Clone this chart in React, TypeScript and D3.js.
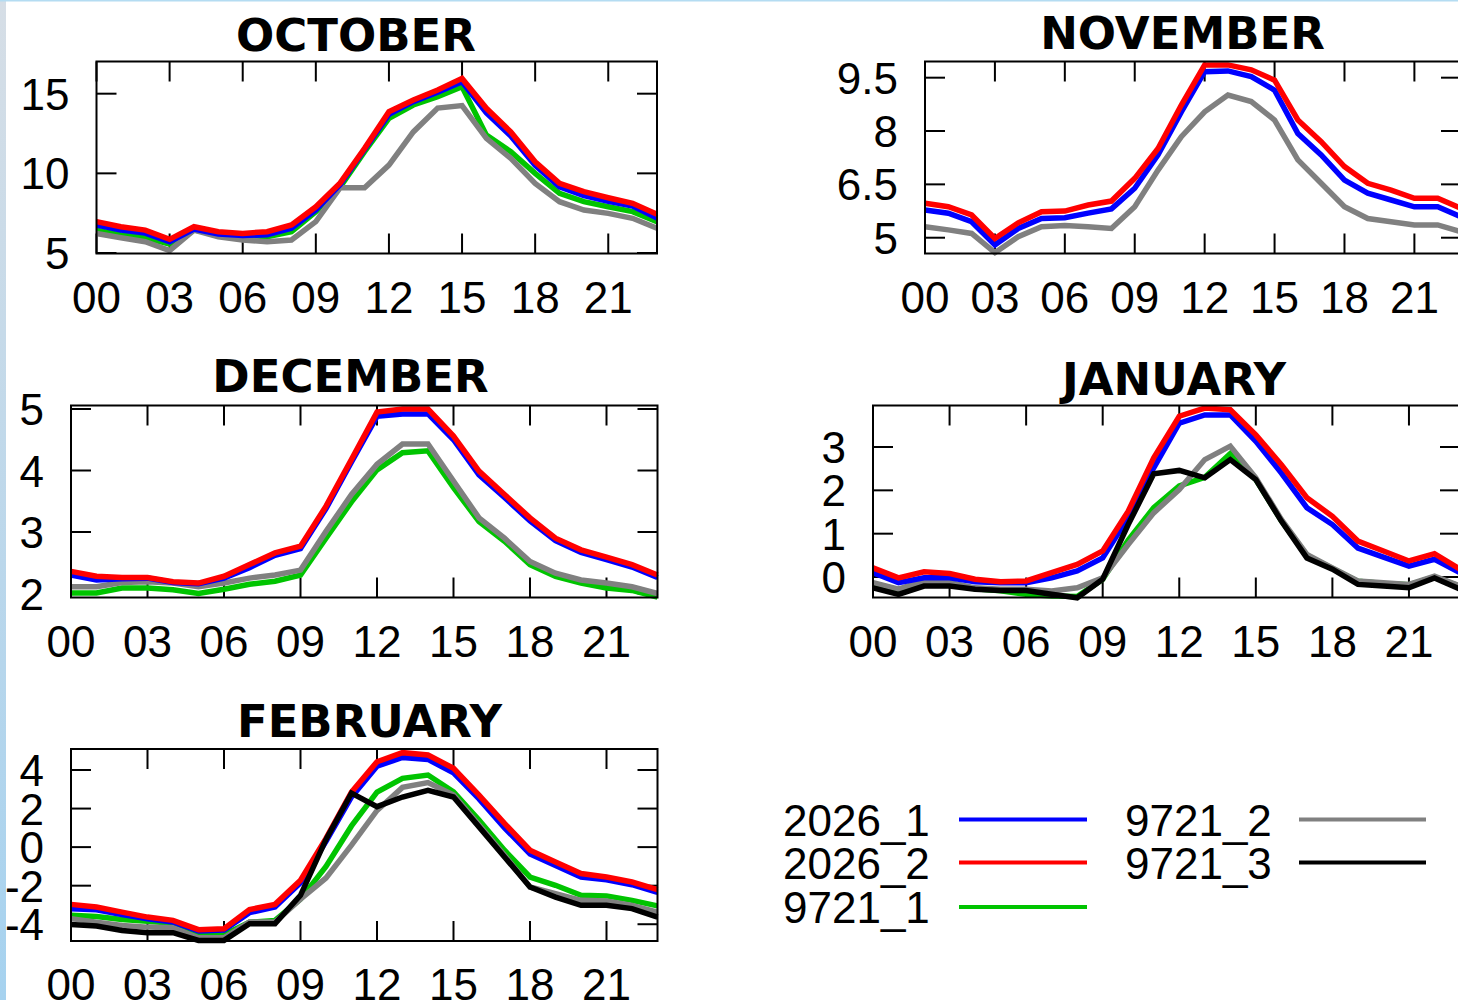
import React from "react";
import * as d3 from "d3";

// ---------- DATA ----------
const HOURS = [0, 1, 2, 3, 4, 5, 6, 7, 8, 9, 10, 11, 12, 13, 14, 15, 16, 17, 18, 19, 20, 21, 22, 23];
const X_TICKS = [0, 3, 6, 9, 12, 15, 18, 21];
const X_TICK_LABELS = ["00", "03", "06", "09", "12", "15", "18", "21"];

const SERIES_NAMES = ["2026_1", "2026_2", "9721_1", "9721_2", "9721_3"];
const SERIES_COLORS = ["#0000ff", "#ff0000", "#00c400", "#808080", "#000000"];

const MONTHS = ["OCTOBER", "NOVEMBER", "DECEMBER", "JANUARY", "FEBRUARY"];
const Y_DOMAINS = [
  [4.97, 17.02],
  [4.556, 9.955],
  [1.935, 5.057],
  [-0.473, 3.958],
  [-4.87, 5.09],
];
const Y_TICKS = [
  [5, 10, 15],
  [5, 6.5, 8, 9.5],
  [2, 3, 4, 5],
  [0, 1, 2, 3],
  [-4, -2, 0, 2, 4],
];

// October
const OCT_2026_1 = [6.75, 6.45, 6.25, 5.7, 6.5, 6.2, 6.1, 6.15, 6.55, 7.7, 9.3, 11.5, 13.7, 14.5, 15.1, 15.75, 13.8, 12.35, 10.5, 9.15, 8.6, 8.25, 7.95, 7.2];
const OCT_2026_2 = [6.97, 6.65, 6.44, 5.86, 6.65, 6.34, 6.23, 6.34, 6.76, 7.9, 9.4, 11.57, 13.87, 14.6, 15.23, 15.96, 14.08, 12.6, 10.73, 9.37, 8.85, 8.47, 8.12, 7.43];
const OCT_9721_1 = [6.44, 6.13, 5.96, 5.56, 6.44, 6.23, 6.13, 6.02, 6.34, 7.6, 9.15, 11.36, 13.45, 14.29, 14.81, 15.44, 12.4, 11.36, 10.0, 8.74, 8.22, 7.9, 7.6, 6.97];
const OCT_9721_2 = [6.23, 5.96, 5.71, 5.15, 6.44, 6.02, 5.82, 5.71, 5.82, 6.97, 9.1, 9.1, 10.52, 12.6, 14.1, 14.25, 12.2, 10.94, 9.37, 8.22, 7.7, 7.49, 7.18, 6.55];
// November
const NOV_2026_1 = [5.78, 5.69, 5.45, 4.8, 5.26, 5.54, 5.56, 5.69, 5.81, 6.39, 7.33, 8.54, 9.67, 9.69, 9.53, 9.15, 7.93, 7.33, 6.62, 6.25, 6.06, 5.87, 5.87, 5.59];
const NOV_2026_2 = [5.97, 5.87, 5.64, 4.98, 5.42, 5.73, 5.75, 5.92, 6.03, 6.67, 7.51, 8.73, 9.86, 9.86, 9.72, 9.43, 8.31, 7.7, 7.0, 6.53, 6.34, 6.11, 6.11, 5.83];
const NOV_9721_2 = [5.31, 5.22, 5.12, 4.58, 5.03, 5.31, 5.34, 5.31, 5.26, 5.87, 6.9, 7.84, 8.54, 9.01, 8.83, 8.31, 7.19, 6.53, 5.87, 5.54, 5.45, 5.36, 5.36, 5.17];
// December
const DEC_2026_1 = [2.3, 2.22, 2.24, 2.25, 2.18, 2.16, 2.25, 2.42, 2.62, 2.73, 3.38, 4.14, 4.88, 4.92, 4.92, 4.5, 3.93, 3.56, 3.18, 2.86, 2.67, 2.55, 2.43, 2.26];
const DEC_2026_2 = [2.36, 2.28, 2.26, 2.26, 2.19, 2.17, 2.28, 2.47, 2.66, 2.77, 3.42, 4.18, 4.95, 5.0, 5.0, 4.56, 3.99, 3.61, 3.23, 2.9, 2.71, 2.59, 2.47, 2.3];
const DEC_9721_1 = [2.01, 2.01, 2.09, 2.09, 2.06, 2.0, 2.07, 2.15, 2.2, 2.3, 2.9, 3.49, 4.01, 4.29, 4.32, 3.72, 3.17, 2.85, 2.47, 2.28, 2.17, 2.09, 2.05, 1.94];
const DEC_9721_2 = [2.11, 2.11, 2.18, 2.19, 2.17, 2.11, 2.17, 2.25, 2.3, 2.38, 3.01, 3.61, 4.1, 4.43, 4.43, 3.83, 3.23, 2.9, 2.52, 2.33, 2.22, 2.17, 2.11, 2.0];
// January
const JAN_2026_1 = [0.1, -0.13, -0.02, -0.02, -0.11, -0.13, -0.13, -0.02, 0.14, 0.44, 1.37, 2.52, 3.55, 3.74, 3.74, 3.13, 2.4, 1.6, 1.21, 0.67, 0.46, 0.25, 0.41, 0.1];
const JAN_2026_2 = [0.21, -0.02, 0.12, 0.08, -0.05, -0.11, -0.09, 0.1, 0.29, 0.6, 1.52, 2.75, 3.71, 3.9, 3.86, 3.28, 2.59, 1.83, 1.4, 0.83, 0.6, 0.37, 0.54, 0.18];
const JAN_9721_1 = [-0.15, -0.3, -0.1, -0.14, -0.27, -0.32, -0.4, -0.44, -0.45, -0.05, 0.85, 1.6, 2.1, 2.3, 2.85, 2.25, 1.3, 0.5, 0.2, -0.1, -0.15, -0.18, 0.0, -0.22];
const JAN_9721_2 = [-0.13, -0.28, -0.09, -0.13, -0.25, -0.28, -0.28, -0.32, -0.25, -0.02, 0.75, 1.48, 2.02, 2.71, 3.02, 2.29, 1.33, 0.52, 0.21, -0.09, -0.13, -0.17, 0.02, -0.21];
const JAN_9721_3 = [-0.25, -0.4, -0.21, -0.21, -0.28, -0.31, -0.31, -0.4, -0.48, -0.05, 1.21, 2.38, 2.46, 2.29, 2.71, 2.25, 1.29, 0.44, 0.18, -0.17, -0.21, -0.25, -0.02, -0.28];
// February
const FEB_2026_1 = [-3.2, -3.25, -3.5, -3.72, -3.88, -4.35, -4.3, -3.4, -3.1, -1.85, 0.3, 2.6, 4.2, 4.65, 4.55, 3.85, 2.5, 1.0, -0.35, -0.95, -1.55, -1.7, -1.95, -2.35];
const FEB_2026_2 = [-2.97, -3.11, -3.37, -3.63, -3.8, -4.28, -4.23, -3.24, -2.97, -1.72, 0.45, 2.85, 4.43, 4.9, 4.78, 4.09, 2.7, 1.23, -0.16, -0.77, -1.37, -1.55, -1.81, -2.2];
const FEB_9721_1 = [-3.54, -3.6, -3.75, -3.85, -3.95, -4.58, -4.55, -3.9, -3.8, -2.7, -1.0, 1.1, 2.85, 3.57, 3.74, 2.87, 1.4, -0.16, -1.55, -1.98, -2.5, -2.53, -2.76, -3.05];
const FEB_9721_2 = [-3.71, -3.89, -4.06, -4.15, -4.18, -4.7, -4.7, -3.89, -3.89, -2.7, -1.6, 0.1, 1.9, 3.1, 3.35, 2.7, 1.14, -0.42, -2.07, -2.41, -2.76, -2.79, -3.02, -3.37];
const FEB_9721_3 = [-4.01, -4.09, -4.32, -4.44, -4.44, -4.84, -4.84, -3.97, -3.97, -2.5, 0.4, 2.8, 2.1, 2.6, 2.95, 2.6, 1.05, -0.51, -2.07, -2.59, -3.02, -3.02, -3.19, -3.63];

// series per month, in SERIES_NAMES order (null = not drawn)
const MONTH_SERIES: (number[] | null)[][] = [
  [OCT_2026_1, OCT_2026_2, OCT_9721_1, OCT_9721_2, null],
  [NOV_2026_1, NOV_2026_2, null, NOV_9721_2, null],
  [DEC_2026_1, DEC_2026_2, DEC_9721_1, DEC_9721_2, null],
  [JAN_2026_1, JAN_2026_2, JAN_9721_1, JAN_9721_2, JAN_9721_3],
  [FEB_2026_1, FEB_2026_2, FEB_9721_1, FEB_9721_2, FEB_9721_3],
];

// ---------- LAYOUT ----------
const W = 1458;
const H = 1000;
const PANEL_BOXES = [
  { x0: 96.5, x1: 657, y0: 61.5, y1: 253.5, tx: 356, ty: 51 },
  { x0: 925, x1: 1461, y0: 61.5, y1: 253.5, tx: 1182.5, ty: 49 },
  { x0: 71, x1: 657.5, y0: 405.5, y1: 597.5, tx: 350.5, ty: 392 },
  { x0: 873, x1: 1460, y0: 405.5, y1: 597.5, tx: 1174, ty: 395 },
  { x0: 71, x1: 657.5, y0: 749, y1: 941, tx: 369.5, ty: 737 },
];
const DRAW_ORDER = [2, 3, 0, 1, 4];
const TICK_LEN = 20;
const LABEL_FONT = "'Liberation Sans', Arial, Helvetica, sans-serif";
const LABEL_SIZE = 44;
const TITLE_FONT = "'DejaVu Sans', sans-serif";

function Panel({ idx }: { idx: number }) {
  const b = PANEL_BOXES[idx];
  const x = d3.scaleLinear().domain([0, 23]).range([b.x0, b.x1]);
  const y = d3.scaleLinear().domain(Y_DOMAINS[idx]).range([b.y1, b.y0]);
  const line = d3
    .line<number>()
    .x((_, i) => x(HOURS[i]))
    .y((d) => y(d));
  const series = MONTH_SERIES[idx];
  return (
    <g>
      <text
        x={b.tx}
        y={b.ty}
        textAnchor="middle"
        fontFamily={TITLE_FONT}
        fontWeight="bold"
        fontSize={45}
        fill="#000"
      >
        {MONTHS[idx]}
      </text>
      {/* x ticks */}
      {X_TICKS.map((t, i) => (
        <g key={"xt" + i}>
          <line x1={x(t)} x2={x(t)} y1={b.y0} y2={b.y0 + TICK_LEN} stroke="#000" strokeWidth={2} />
          <line x1={x(t)} x2={x(t)} y1={b.y1} y2={b.y1 - TICK_LEN} stroke="#000" strokeWidth={2} />
          <text
            x={x(t)}
            y={b.y1 + 59}
            textAnchor="middle"
            fontFamily={LABEL_FONT}
            fontSize={LABEL_SIZE}
            fill="#000"
          >
            {X_TICK_LABELS[i]}
          </text>
        </g>
      ))}
      {/* y ticks */}
      {Y_TICKS[idx].map((t, i) => (
        <g key={"yt" + i}>
          <line x1={b.x0} x2={b.x0 + TICK_LEN} y1={y(t)} y2={y(t)} stroke="#000" strokeWidth={2} />
          <line x1={b.x1} x2={b.x1 - TICK_LEN} y1={y(t)} y2={y(t)} stroke="#000" strokeWidth={2} />
          <text
            x={b.x0 - 27}
            y={y(t) + 16}
            textAnchor="end"
            fontFamily={LABEL_FONT}
            fontSize={LABEL_SIZE}
            fill="#000"
          >
            {String(t)}
          </text>
        </g>
      ))}
      {/* lines */}
      {DRAW_ORDER.map((si) =>
        series[si] ? (
          <path
            key={"s" + si}
            d={line(series[si] as number[]) || ""}
            fill="none"
            stroke={SERIES_COLORS[si]}
            strokeWidth={5.5}
            strokeLinejoin="miter"
          />
        ) : null
      )}
      <rect
        x={b.x0}
        y={b.y0}
        width={b.x1 - b.x0}
        height={b.y1 - b.y0}
        fill="none"
        stroke="#000"
        strokeWidth={2}
      />
    </g>
  );
}

const LEGEND_ITEMS = [
  { si: 0, tx: 783, lx0: 959, lx1: 1087, ty: 819.5 },
  { si: 1, tx: 783, lx0: 959, lx1: 1087, ty: 862.5 },
  { si: 2, tx: 783, lx0: 959, lx1: 1087, ty: 907 },
  { si: 3, tx: 1125, lx0: 1299, lx1: 1426, ty: 819.5 },
  { si: 4, tx: 1125, lx0: 1299, lx1: 1426, ty: 862.5 },
];

export default function App() {
  return (
    <svg
      width={W}
      height={H}
      viewBox={`0 0 ${W} ${H}`}
      style={{ position: "absolute", left: 0, top: 0, background: "#fff" }}
    >
      <defs>
        <linearGradient id="edge" x1="0" y1="0" x2="0" y2="1">
          <stop offset="0" stopColor="#d6dee6" />
          <stop offset="1" stopColor="#a6d2ef" />
        </linearGradient>
      </defs>
      <rect x={0} y={0} width={W} height={H} fill="#fff" />
      <rect x={0} y={0} width={6} height={H} fill="url(#edge)" />
      <rect x={0} y={0} width={W} height={1.5} fill="#b4dcf2" />
      {MONTHS.map((_, i) => (
        <Panel key={i} idx={i} />
      ))}
      {LEGEND_ITEMS.map((it, i) => (
        <g key={"lg" + i}>
          <text x={it.tx} y={it.ty + 16} fontFamily={LABEL_FONT} fontSize={LABEL_SIZE} fill="#000">
            {SERIES_NAMES[it.si]}
          </text>
          <line
            x1={it.lx0}
            x2={it.lx1}
            y1={it.ty}
            y2={it.ty}
            stroke={SERIES_COLORS[it.si]}
            strokeWidth={4}
          />
        </g>
      ))}
    </svg>
  );
}
